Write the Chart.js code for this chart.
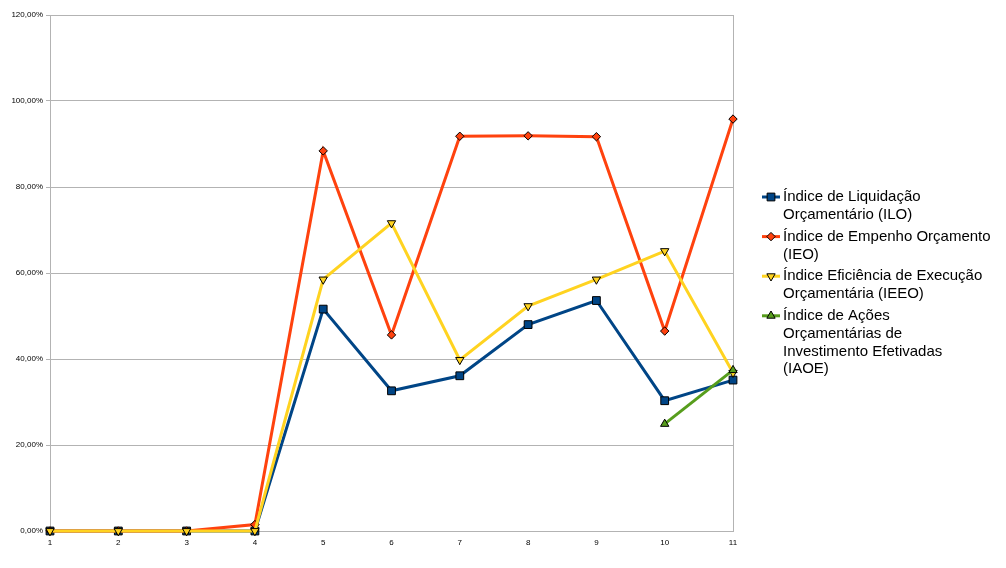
<!DOCTYPE html>
<html>
<head>
<meta charset="utf-8">
<script src="https://cdn.jsdelivr.net/npm/chart.js@4/dist/chart.umd.min.js"></script>
<style>
  html, body { margin: 0; padding: 0; background: #fff; }
  #wrap { width: 1006px; height: 568px; }
</style>
</head>
<body>
<div id="wrap"><canvas id="chart" width="1006" height="568"></canvas></div>
<script>
// data (percent)
const categories = ["1", "2", "3", "4", "5", "6", "7", "8", "9", "10", "11"];
const ilo  = [0, 0, 0, 0, 51.6, 32.6, 36.1, 48.0, 53.6, 30.3, 35.1];
const ieo  = [0, 0, 0, 1.5, 88.4, 45.6, 91.8, 91.9, 91.7, 46.5, 95.8];
const ieeo = [0, 0, 0, 0, 58.5, 71.6, 39.8, 52.3, 58.5, 65.1, 36.8];
const iaoe = [null, null, null, null, null, null, null, null, null, 24.9, 37.4];

const seriesNames = [
  "Índice de Liquidação Orçamentário (ILO)",
  "Índice de Empenho Orçamento (IEO)",
  "Índice Eficiência de Execução Orçamentária (IEEO)",
  "Índice de Ações Orçamentárias de Investimento Efetivadas (IAOE)"
];
const legendLines = [
  ["Índice de Liquidação", "Orçamentário (ILO)"],
  ["Índice de Empenho Orçamento", "(IEO)"],
  ["Índice Eficiência de Execução", "Orçamentária (IEEO)"],
  ["Índice de Ações", "Orçamentárias de", "Investimento Efetivadas", "(IAOE)"]
];

const colors = ["#004586", "#ff420e", "#ffd320", "#579d1c"];
const gridColor = "#b3b3b3";

function makeSet(i, values, style, radius, rotation) {
  return {
    label: seriesNames[i],
    data: values,
    borderColor: colors[i],
    backgroundColor: colors[i],
    pointBackgroundColor: colors[i],
    pointBorderColor: "#000",
    pointBorderWidth: 1,
    pointStyle: style,
    pointRadius: radius,
    pointRotation: rotation,
    borderWidth: 3,
    tension: 0,
    spanGaps: false,
    clip: false,
    order: 4 - i
  };
}

// legend drawn by hand so that the labels can wrap like the original
const sideLegend = {
  id: "sideLegend",
  afterDraw(chart) {
    const ctx = chart.ctx;
    const sets = chart.data.datasets;
    let y = 197;
    const lineH = 17.8;
    ctx.save();
    ctx.font = "15px 'Liberation Sans', Arial, sans-serif";
    ctx.textBaseline = "middle";
    ctx.textAlign = "left";
    sets.forEach((ds, i) => {
      ctx.strokeStyle = ds.borderColor;
      ctx.lineWidth = 3;
      ctx.beginPath();
      ctx.moveTo(762, y);
      ctx.lineTo(780, y);
      ctx.stroke();
      ctx.fillStyle = ds.pointBackgroundColor;
      ctx.strokeStyle = "#000";
      ctx.lineWidth = 1;
      Chart.helpers.drawPoint(ctx, {
        pointStyle: ds.pointStyle,
        rotation: ds.pointRotation,
        radius: ds.pointRadius,
        borderWidth: 1
      }, 771, y);
      ctx.fillStyle = "#000";
      legendLines[i].forEach((t, k) => {
        ctx.fillText(t, 783, y + k * lineH);
      });
      y += legendLines[i].length * lineH + 4;
    });
    ctx.restore();
  }
};

const tickFont = { family: "'Liberation Sans', Arial, sans-serif", size: 8 };

const ctx = document.getElementById("chart").getContext("2d");
new Chart(ctx, {
  type: "line",
  data: {
    labels: categories,
    datasets: [
      makeSet(0, ilo, "rect", 5.5, 0),
      makeSet(1, ieo, "rectRot", 4.2, 0),
      makeSet(2, ieeo, "triangle", 4.8, 180),
      makeSet(3, iaoe, "triangle", 4.8, 0)
    ]
  },
  options: {
    responsive: false,
    animation: false,
    layout: { padding: { top: 15, right: 273, left: 0, bottom: 0 } },
    plugins: {
      legend: { display: false },
      tooltip: { enabled: false }
    },
    scales: {
      x: {
        offset: false,
        afterFit(scale) { scale.height = 37; },
        border: { color: gridColor, width: 1 },
        grid: {
          drawTicks: false,
          color: c => (c.index === categories.length - 1 ? gridColor : "rgba(0,0,0,0)")
        },
        ticks: {
          color: "#000",
          padding: 7,
          font: tickFont,
          maxRotation: 0,
          autoSkip: false
        }
      },
      y: {
        min: 0,
        max: 120,
        afterFit(scale) { scale.width = 50; },
        border: { color: gridColor, width: 1 },
        grid: { color: gridColor, tickLength: 4, drawTicks: true },
        ticks: {
          stepSize: 20,
          color: "#000",
          padding: 3,
          font: tickFont,
          callback: v => v.toFixed(2).replace(".", ",") + "%"
        }
      }
    }
  },
  plugins: [sideLegend]
});
</script>
</body>
</html>
